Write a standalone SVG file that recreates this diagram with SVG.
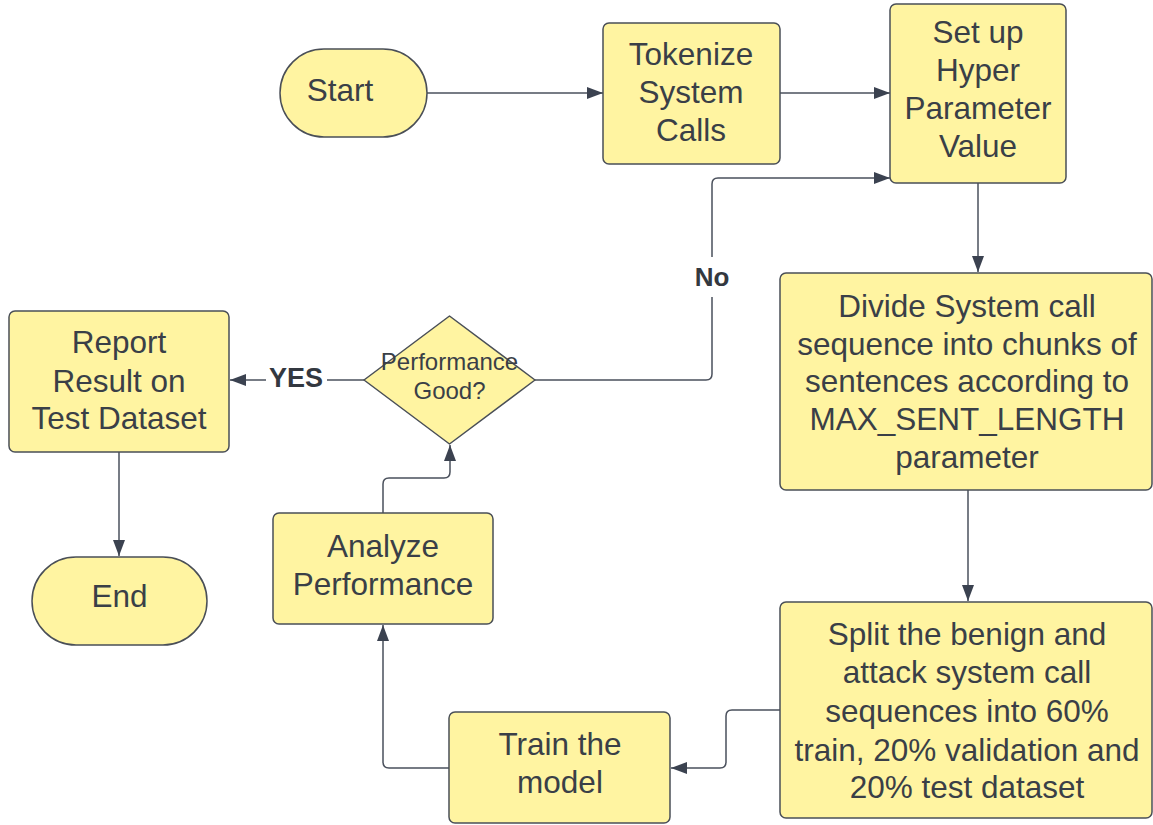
<svg xmlns="http://www.w3.org/2000/svg" width="1153" height="825" viewBox="0 0 1153 825">
  <defs>
    <marker id="arrow" viewBox="0 0 16 12" refX="16" refY="6" markerWidth="16" markerHeight="12" markerUnits="userSpaceOnUse" orient="auto">
      <path d="M0,0 L16,6 L0,12 Z" fill="#3b4250"/>
    </marker>
    <style>
      .shape { fill: #fff4a1; stroke: #4a4f57; stroke-width: 1.5; }
      .label { font-family: "Liberation Sans", Arial, sans-serif; font-size: 31.5px; fill: #3a3f47; text-anchor: middle; }
      .small { font-size: 24px; }
      .edge { fill: none; stroke: #4a505c; stroke-width: 1.5; marker-end: url(#arrow); }
      .tag { font-family: "Liberation Sans", Arial, sans-serif; font-weight: bold; fill: #333840; text-anchor: middle; }
    </style>
  </defs>
  <rect width="1153" height="825" fill="#ffffff"/>

  <!-- connectors -->
  <g id="connectors">
    <path class="edge" d="M427,93 L603,93"/>
    <path class="edge" d="M780,93 L890,93"/>
    <path class="edge" d="M978,183 L978,272"/>
    <path class="edge" d="M968,490 L968,601"/>
    <path class="edge" d="M780,710 L732,710 Q726,710 726,716 L726,762 Q726,768 720,768 L671,768"/>
    <path class="edge" d="M449,768 L389,768 Q383,768 383,762 L383,625"/>
    <path class="edge" d="M383,513 L383,484 Q383,478 389,478 L444,478 Q450,478 450,472 L450,445"/>
    <path class="edge" d="M535,380 L706,380 Q712,380 712,374 L712,184 Q712,178 718,178 L890,178"/>
    <path class="edge" d="M364,380 L230,380"/>
    <path class="edge" d="M119,452 L119,556"/>
    <!-- label backgrounds -->
    <rect x="694" y="257" width="36" height="40" fill="#ffffff"/>
    <rect x="266" y="364" width="61" height="32" fill="#ffffff"/>
    <text class="tag" x="712" y="286" font-size="26">No</text>
    <text class="tag" x="296" y="387" font-size="27">YES</text>
  </g>

  <g id="start">
    <rect class="shape" x="280" y="49" width="147" height="88" rx="44"/>
    <text class="label" x="340" y="101">Start</text>
  </g>

  <g id="tokenize">
    <rect class="shape" x="603" y="23" width="177" height="141" rx="6"/>
    <text class="label" x="691" y="65">Tokenize</text>
    <text class="label" x="691" y="103">System</text>
    <text class="label" x="691" y="141">Calls</text>
  </g>

  <g id="hyperparam">
    <rect class="shape" x="890" y="4" width="176" height="179" rx="6"/>
    <text class="label" x="978" y="43">Set up</text>
    <text class="label" x="978" y="81">Hyper</text>
    <text class="label" x="978" y="119">Parameter</text>
    <text class="label" x="978" y="157">Value</text>
  </g>

  <g id="divide">
    <rect class="shape" x="780" y="273" width="372" height="217" rx="6"/>
    <text class="label" x="967" y="317">Divide System call</text>
    <text class="label" x="967" y="355">sequence into chunks of</text>
    <text class="label" x="967" y="392">sentences according to</text>
    <text class="label" x="967" y="430">MAX_SENT_LENGTH</text>
    <text class="label" x="967" y="468">parameter</text>
  </g>

  <g id="split">
    <rect class="shape" x="780" y="602" width="372" height="216" rx="6"/>
    <text class="label" x="967" y="645">Split the benign and</text>
    <text class="label" x="967" y="683">attack system call</text>
    <text class="label" x="967" y="722">sequences into 60%</text>
    <text class="label" x="967" y="761">train, 20% validation and</text>
    <text class="label" x="967" y="798">20% test dataset</text>
  </g>

  <g id="train">
    <rect class="shape" x="449" y="712" width="221" height="111" rx="6"/>
    <text class="label" x="560" y="755">Train the</text>
    <text class="label" x="560" y="793">model</text>
  </g>

  <g id="analyze">
    <rect class="shape" x="273" y="513" width="220" height="111" rx="6"/>
    <text class="label" x="383" y="557">Analyze</text>
    <text class="label" x="383" y="595">Performance</text>
  </g>

  <g id="decision">
    <path class="shape" d="M449.5,316 L535,380 L449.5,444 L364,380 Z" stroke-linejoin="round"/>
    <text class="label small" x="449.5" y="370">Performance</text>
    <text class="label small" x="449.5" y="399">Good?</text>
  </g>

  <g id="report">
    <rect class="shape" x="9" y="311" width="220" height="141" rx="6"/>
    <text class="label" x="119" y="353">Report</text>
    <text class="label" x="119" y="392">Result on</text>
    <text class="label" x="119" y="429">Test Dataset</text>
  </g>

  <g id="end">
    <rect class="shape" x="32" y="557" width="175" height="88" rx="44"/>
    <text class="label" x="119.5" y="607">End</text>
  </g>
</svg>
